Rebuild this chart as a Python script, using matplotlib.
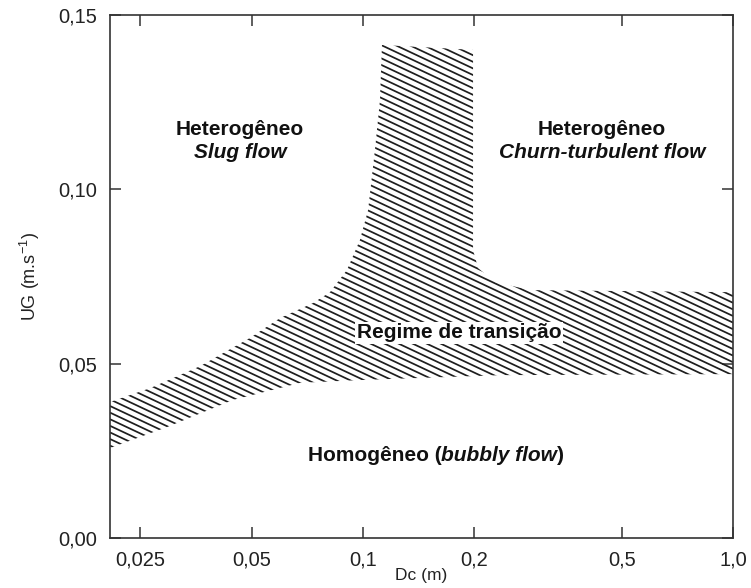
import numpy as np
import matplotlib
matplotlib.use("Agg")
import matplotlib.pyplot as plt
from matplotlib.patches import Polygon
from matplotlib.collections import LineCollection
from matplotlib.transforms import offset_copy

plt.rcParams['font.family'] = ['Liberation Sans', 'DejaVu Sans']
plt.rcParams['mathtext.fontset'] = 'custom'
plt.rcParams['mathtext.rm'] = 'Liberation Sans'
plt.rcParams['mathtext.it'] = 'Liberation Sans:italic'
plt.rcParams['mathtext.bf'] = 'Liberation Sans:bold'

# ---- data: transition-regime band boundaries (Dc in m, UG in m/s) ----
lower_dc = [0.0207, 0.0295, 0.0445, 0.0676, 0.0981, 0.2346, 1.0]
lower_ug = [0.0258, 0.0318, 0.0396, 0.0445, 0.0453, 0.0467, 0.0470]
upper_dc = [1.0, 0.2828, 0.2275, 0.2046, 0.1983, 0.1983, 0.1125, 0.1111,
            0.1077, 0.1032, 0.0981, 0.0905, 0.0814, 0.0733, 0.0597, 0.0495,
            0.0363, 0.0266, 0.0207]
upper_ug = [0.0705, 0.0711, 0.0734, 0.0774, 0.0826, 0.1400, 0.1414, 0.1256,
            0.1113, 0.0941, 0.0855, 0.0769, 0.0705, 0.0674, 0.0631, 0.0574,
            0.0493, 0.0430, 0.0390]

x_ticks = [0.025, 0.05, 0.1, 0.2, 0.5, 1.0]
x_ticklabels = ["0,025", "0,05", "0,1", "0,2", "0,5", "1,0"]
y_ticks = [0.0, 0.05, 0.10, 0.15]
y_ticklabels = ["0,00", "0,05", "0,10", "0,15"]

fig = plt.figure(figsize=(7.51, 5.88), dpi=100)
ax = fig.add_axes([110/751, 50/588, 623/751, 523/588])
ax.set_xscale('log')
ax.set_xlim(0.0207, 1.0)
ax.set_ylim(0.0, 0.15)

# band polygon used as clip region for hatching
verts = list(zip(lower_dc, lower_ug)) + list(zip(upper_dc, upper_ug))
band = Polygon(verts, closed=True, transform=ax.transData,
               facecolor='none', edgecolor='none')
ax.add_patch(band)

# hatching lines (pattern in axes coordinates)
W, H = 623.0, 523.0
slope_px = -0.47
spacing_px = 6.6
offsets = np.arange(0, H + W * 0.5 + spacing_px, spacing_px)
segs = []
for c in offsets:
    y0 = c / H
    y1 = (c + slope_px * W) / H
    segs.append([(0, y0), (1, y1)])
lc = LineCollection(segs, colors='#1e1e1e', linewidths=1.25,
                    transform=ax.transAxes)
lc.set_clip_path(band)
ax.add_collection(lc)

ax.set_xticks(x_ticks)
ax.set_xticklabels(x_ticklabels)
ax.set_yticks(y_ticks)
ax.set_yticklabels(y_ticklabels)
ax.xaxis.set_minor_locator(matplotlib.ticker.NullLocator())
ax.tick_params(axis='both', which='major', direction='in', length=8,
               width=1.1, color='#333333', labelsize=14.5, labelcolor='#222222',
               top=True, right=True)
ax.tick_params(axis='x', pad=9)
ax.tick_params(axis='y', pad=9)
for s in ax.spines.values():
    s.set_color('#333333')
    s.set_linewidth(1.2)

ax.set_xlabel("Dc (m)", fontsize=12.5, labelpad=-1, color='#222222')
ax.set_ylabel("UG (m.s$^{-1}$)", fontsize=13, labelpad=12, color='#222222')

fs = 15
ax.text(0.0465, 0.1173, "Heterogêneo", ha='center', va='center',
        fontsize=fs, weight='bold', color='#111111')
ax.text(0.0465, 0.1107, "Slug flow", ha='center', va='center',
        fontsize=fs, weight='bold', style='italic', color='#111111')
ax.text(0.443, 0.1173, "Heterogêneo", ha='center', va='center',
        fontsize=fs, weight='bold', color='#111111')
ax.text(0.443, 0.1107, "Churn-turbulent flow", ha='center', va='center',
        fontsize=fs, weight='bold', style='italic', color='#111111')
ax.text(0.1817, 0.0588, "Regime de transição", ha='center', va='center',
        fontsize=fs, weight='bold', color='#111111',
        bbox=dict(facecolor='white', edgecolor='none', pad=1.0))

# mixed-style label centered at a point
pieces = [("Homogêneo (", 'normal'), ("bubbly flow", 'italic'), (")", 'normal')]
fig.canvas.draw()
r = fig.canvas.get_renderer()
widths = []
for txt, st in pieces:
    t = ax.text(0.5, 0.5, txt, fontsize=fs, weight='bold', style=st)
    widths.append(t.get_window_extent(r).width)
    t.remove()
total = sum(widths)
cx, cy = 0.1575, 0.0241
xoff = -total / 2
for (txt, st), w in zip(pieces, widths):
    tr = offset_copy(ax.transData, fig=fig, x=xoff, y=0, units='dots')
    ax.text(cx, cy, txt, transform=tr, ha='left', va='center_baseline',
            fontsize=fs, weight='bold', style=st, color='#111111')
    xoff += w

fig.savefig("out.png", dpi=100)
